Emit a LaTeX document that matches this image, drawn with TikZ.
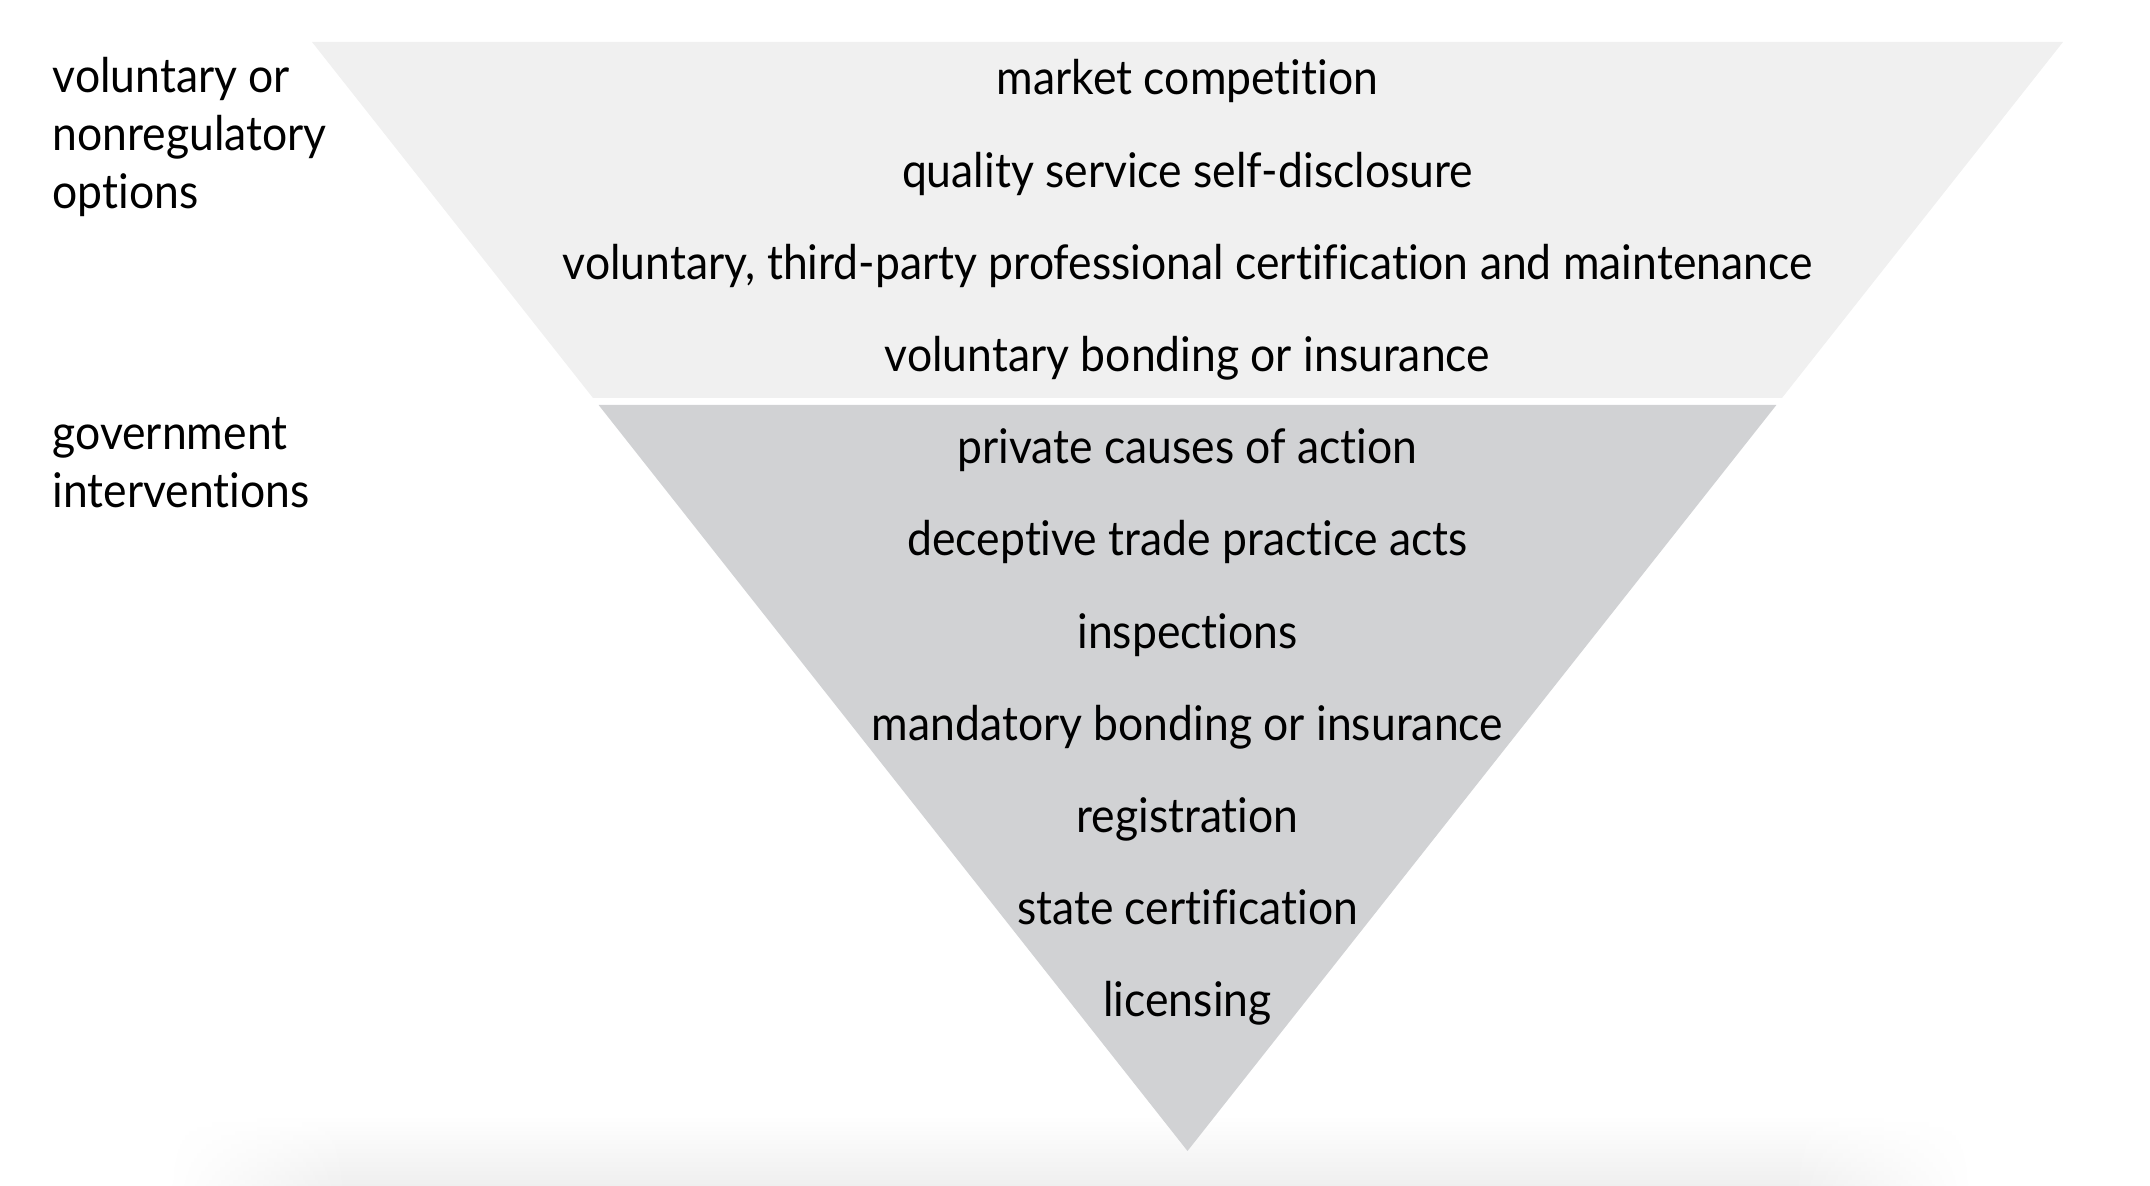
\documentclass[tikz,border=0pt]{standalone}
\usepackage{fontspec}
\setmainfont{Lato}[FakeStretch=0.93,Ligatures=NoCommon]
\usepackage{tikz}
\usetikzlibrary{calc,fadings}
\definecolor{toplight}{HTML}{F0F0F0}
\definecolor{lowdark}{HTML}{D1D2D4}
\definecolor{shadowgray}{HTML}{EFEFEF}
\pgfdeclarehorizontalshading{edgefadeshade}{100bp}{color(0bp)=(transparent!100); color(25bp)=(transparent!100); color(30bp)=(transparent!0); color(70bp)=(transparent!0); color(75bp)=(transparent!100); color(100bp)=(transparent!100)}
\tikzfading[name=edgefade, shading=edgefadeshade]

\begin{document}
\begin{tikzpicture}[x=0.01cm,y=-0.01cm,
  rowtext/.style={anchor=base,inner sep=0pt,font=\fontsize{13.6}{16.5}\selectfont},
  sidetext/.style={anchor=base west,inner sep=0pt,align=left,font=\fontsize{13.6}{16.5}\selectfont}]
\useasboundingbox (0,0) rectangle (2150,1186);
% faint shadow at the foot
\shade[top color=white,bottom color=shadowgray,path fading=edgefade] (170,1115) rectangle (1970,1186);
% the two bands of the funnel
\fill[toplight] (312,42) -- (2063,42) -- (1782,398) -- (593,398) -- cycle;
\fill[lowdark] (598.6,405) -- (1776.4,405) -- (1187.5,1151) -- cycle;
% side labels (anchored at the last line)
\node[sidetext] (voluntary) at (52,209) {voluntary or\\nonregulatory\\options};
\node[sidetext] (govt) at (52,508) {government\\interventions};
% voluntary band
\node[rowtext] (market) at (1187.5,95) {market competition};
\node[rowtext] (selfdisc) at (1187.5,187.2) {quality service self-disclosure};
\node[rowtext] (thirdparty) at (1187.5,279.4) {voluntary, third-party professional certification and maintenance};
\node[rowtext] (volbond) at (1187.5,371.6) {voluntary bonding or insurance};
% government band
\node[rowtext] (private) at (1187.5,463.8) {private causes of action};
\node[rowtext] (deceptive) at (1187.5,556) {deceptive trade practice acts};
\node[rowtext] (inspect) at (1187.5,648.2) {inspections};
\node[rowtext] (mandbond) at (1187.5,740.4) {mandatory bonding or insurance};
\node[rowtext] (regist) at (1187.5,832.6) {registration};
\node[rowtext] (statecert) at (1187.5,924.8) {state certification};
\node[rowtext] (licens) at (1187.5,1017) {licensing};
\end{tikzpicture}
\end{document}
